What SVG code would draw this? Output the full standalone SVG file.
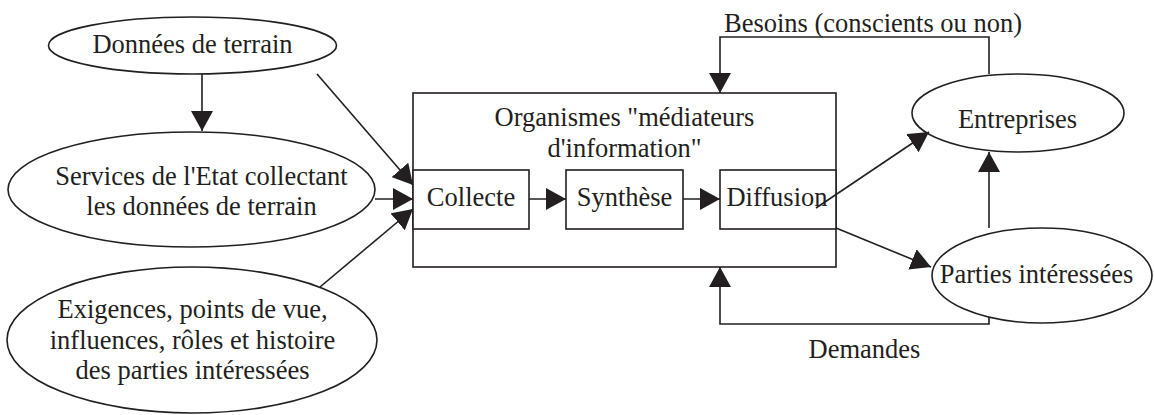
<svg xmlns="http://www.w3.org/2000/svg" width="1154" height="415" viewBox="0 0 1154 415">
<style>
  .shape { fill: #ffffff; stroke: #231f20; stroke-width: 1.6; }
  .conn { fill: none; stroke: #231f20; stroke-width: 1.6; marker-end: url(#arrow); }
  .line { fill: none; stroke: #231f20; stroke-width: 1.6; }
  text { font-family: "Liberation Serif", "Times New Roman", serif; font-size: 26.5px; fill: #231f20; text-anchor: middle; }
</style>
<defs>
  <marker id="arrow" viewBox="0 0 20 22" refX="20" refY="11" markerWidth="20" markerHeight="22" markerUnits="userSpaceOnUse" orient="auto">
    <path d="M0,0 L20,11 L0,22 z" fill="#231f20"/>
  </marker>
</defs>
<rect width="1154" height="415" fill="#ffffff"/>

<g id="donnees">
  <ellipse class="shape" cx="192.5" cy="45.5" rx="144" ry="28.5"/>
  <text x="192.5" y="53">Données de terrain</text>
</g>
<g id="services">
  <ellipse class="shape" cx="191.5" cy="189.5" rx="183.5" ry="57.5"/>
  <text x="201.5" y="185">Services de l'Etat collectant</text>
  <text x="201.5" y="215">les données de terrain</text>
</g>
<g id="exigences">
  <ellipse class="shape" cx="192" cy="340" rx="185" ry="73"/>
  <text x="192.5" y="318">Exigences, points de vue,</text>
  <text x="192.5" y="348.5">influences, rôles et histoire</text>
  <text x="192.5" y="379">des parties intéressées</text>
</g>
<g id="organismes">
  <rect class="shape" x="413" y="93" width="423" height="174"/>
  <text x="624.5" y="126">Organismes "médiateurs</text>
  <text x="624.5" y="157">d'information"</text>
</g>
<g id="collecte">
  <rect class="shape" x="413" y="170" width="116" height="59"/>
  <text x="471" y="206">Collecte</text>
</g>
<g id="synthese">
  <rect class="shape" x="566" y="170" width="117" height="59"/>
  <text x="624.5" y="206">Synthèse</text>
</g>
<g id="diffusion">
  <rect class="shape" x="720" y="170" width="116" height="59"/>
  <text x="777" y="206">Diffusion</text>
</g>
<g id="entreprises">
  <ellipse class="shape" cx="1018" cy="113" rx="106" ry="39"/>
  <text x="1017.5" y="128">Entreprises</text>
</g>
<g id="parties">
  <ellipse class="shape" cx="1042" cy="275.5" rx="110" ry="47.5"/>
  <text x="1036.5" y="283">Parties intéressées</text>
</g>

<g id="connectors">
  <path class="conn" d="M202,74 L202,131"/>
  <path class="conn" d="M317,74 L413,185"/>
  <path class="conn" d="M375,199 L413,199"/>
  <path class="conn" d="M320,287 L413,209"/>
  <path class="conn" d="M529,199 L566,199"/>
  <path class="conn" d="M683,199 L720,199"/>
  <path class="conn" d="M816,208 L929,132"/>
  <path class="conn" d="M836,228 L931,267"/>
  <path class="conn" d="M989,74 L989,37 L720,37 L720,93"/>
  <path class="conn" d="M989,228 L989,152"/>
  <path class="conn" d="M989,317 L989,324 L720,324 L720,267"/>
  <text x="873" y="32">Besoins (conscients ou non)</text>
  <text x="864.5" y="358">Demandes</text>
</g>
</svg>
